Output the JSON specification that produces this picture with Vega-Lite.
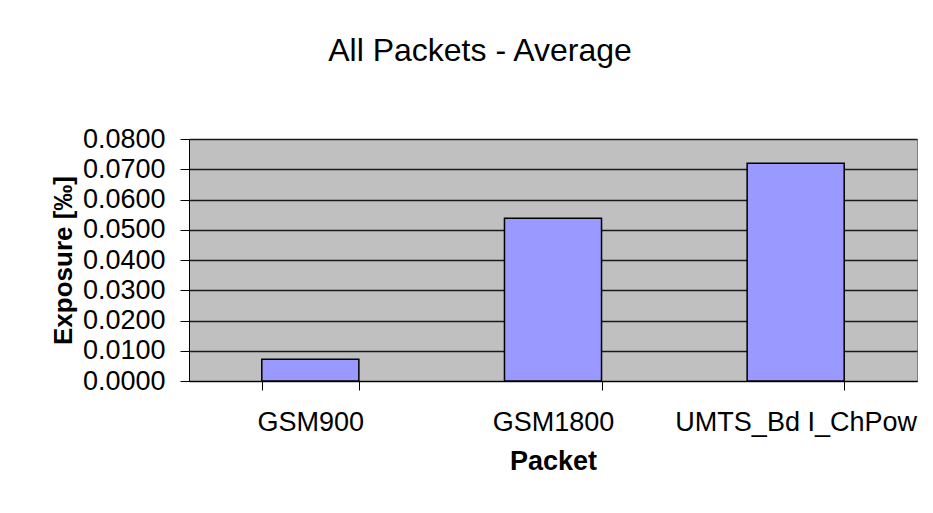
{
  "$schema": "https://vega.github.io/schema/vega-lite/v6.json",
  "autosize": "none",
  "width": 728,
  "height": 242,
  "padding": {"left": 189, "top": 139, "right": 16, "bottom": 132},
  "background": "white",
  "title": {
    "text": "All Packets - Average",
    "font": "Liberation Sans",
    "fontSize": 32,
    "fontWeight": "normal",
    "color": "#000000",
    "anchor": "middle",
    "dx": -73,
    "offset": 57
  },
  "data": {
    "values": [
      {"packet": "GSM900", "exposure": 0.0072},
      {"packet": "GSM1800", "exposure": 0.0538},
      {"packet": "UMTS_Bd I_ChPow", "exposure": 0.0720}
    ]
  },
  "mark": {"type": "bar", "fill": "#9999FF", "stroke": "#000000", "strokeWidth": 1.5},
  "encoding": {
    "x": {
      "field": "packet",
      "type": "nominal",
      "sort": null,
      "scale": {"paddingInner": 0.6, "paddingOuter": 0.3},
      "axis": {
        "title": "Packet",
        "labelAngle": 0,
        "labelLimit": 1000,
        "tickBand": "extent",
        "tickSize": 9,
        "tickColor": "#000000",
        "domainColor": "#000000",
        "labelFont": "Liberation Sans",
        "labelFontSize": 27,
        "labelColor": "#000000",
        "labelPadding": 19,
        "titleFont": "Liberation Sans",
        "titleFontSize": 27,
        "titleFontWeight": "bold",
        "titleColor": "#000000",
        "titlePadding": 13
      }
    },
    "y": {
      "field": "exposure",
      "type": "quantitative",
      "scale": {"domain": [0, 0.08]},
      "axis": {
        "title": "Exposure [‰]",
        "format": ".4f",
        "values": [0, 0.01, 0.02, 0.03, 0.04, 0.05, 0.06, 0.07, 0.08],
        "grid": true,
        "gridColor": "#1a1a1a",
        "gridWidth": 1.3,
        "tickSize": 9,
        "tickColor": "#000000",
        "domainColor": "#000000",
        "labelFont": "Liberation Sans",
        "labelFontSize": 27,
        "labelColor": "#000000",
        "labelPadding": 15,
        "titleFont": "Liberation Sans",
        "titleFontSize": 26,
        "titleFontWeight": "bold",
        "titleColor": "#000000",
        "titlePadding": 6
      }
    }
  },
  "config": {"view": {"fill": "#C0C0C0", "stroke": "#808080"}}
}
